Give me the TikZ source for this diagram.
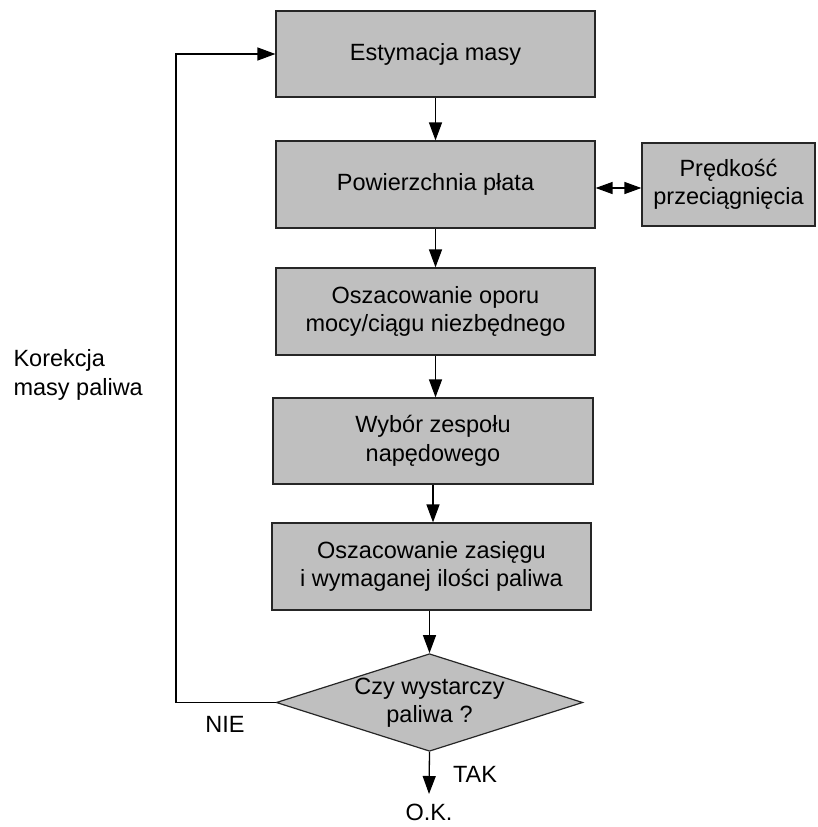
\documentclass[tikz,border=0pt]{standalone}
\usepackage{fontspec}
\setmainfont{Liberation Sans}
\usetikzlibrary{shapes.geometric, arrows.meta}
\tikzstyle{blok} = [rectangle, draw=black!85, fill=black!25, line width=1.2pt, text centered, align=center, font=\fontsize{23.5}{28.5}\selectfont]
\tikzstyle{romb} = [diamond, draw=black!85, fill=black!25, line width=1.2pt, aspect=3.14, inner sep=0, minimum width=305pt, minimum height=97pt, align=center, font=\fontsize{23.5}{28.5}\selectfont]
\tikzstyle{opis} = [font=\fontsize{23.5}{28.5}\selectfont, align=left]
\tikzstyle{arrow} = [line width=1.3pt, -{Triangle[length=18pt,width=13pt]}]
\begin{document}
\begin{tikzpicture}[x=1pt,y=-1pt]
\useasboundingbox (0,0) rectangle (817,827);
\node[blok, minimum width=319pt, minimum height=86pt] (masa) at (435.5,54) {Estymacja masy};
\node[blok, minimum width=319pt, minimum height=87pt] (plat) at (435.5,184.5) {Powierzchnia płata};
\node[blok, minimum width=173pt, minimum height=83pt] (vs) at (728.5,184.5) {Prędkość\\przeciągnięcia};
\node[blok, minimum width=319pt, minimum height=87pt] (opor) at (435.5,311.5) {Oszacowanie oporu\\mocy/ciągu niezbędnego};
\node[blok, minimum width=320pt, minimum height=86pt] (naped) at (433,441) {Wybór zespołu\\napędowego};
\node[blok, minimum width=319pt, minimum height=87pt] (zasieg) at (431.5,566.5) {Oszacowanie zasięgu\\i wymaganej ilości paliwa};
\node[romb] (czy) at (429.5,702.5) {Czy wystarczy\\paliwa ?};
\node[opis] (ok) at (429,812) {O.K.};
\node[opis] (tak) at (475,774) {TAK};
\node[opis] (nie) at (225,724) {NIE};
\node[opis, anchor=west] (korekcja) at (10,375) {Korekcja\\masy paliwa};
\coordinate (rog) at (176,54);

\draw[arrow] (masa) -- (plat);
\draw[arrow] (plat) -- (opor);
\draw[arrow] (opor) -- (opor.south |- naped.north);
\draw[arrow] (naped) -- (naped.south |- zasieg.north);
\draw[arrow] (zasieg.south -| czy.north) -- (czy);
\draw[line width=1.3pt, {Triangle[length=17pt,width=12pt]}-{Triangle[length=17pt,width=12pt]}] (plat.east |- 0,188) -- (vs.west |- 0,188);
\draw[arrow] (czy.south) -- (429,794);
\draw[arrow] (czy.west) -| (rog) -- (masa.west);
\end{tikzpicture}
\end{document}
